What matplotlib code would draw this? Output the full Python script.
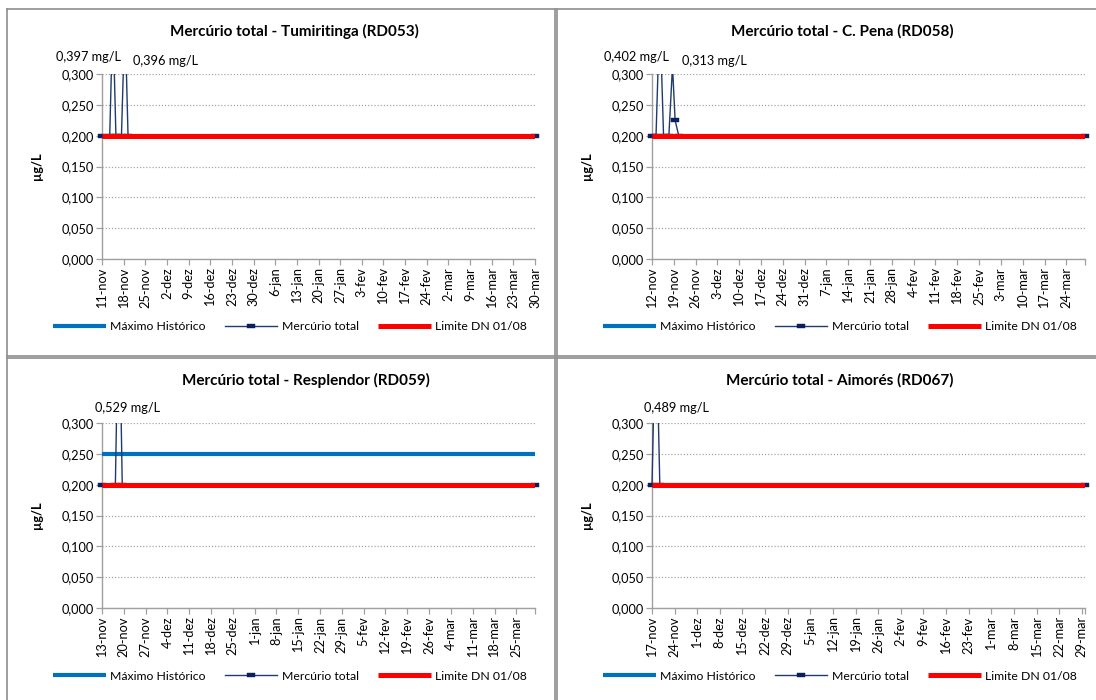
import matplotlib
matplotlib.use('Agg')
import matplotlib.pyplot as plt
import numpy as np
import datetime as dt
import matplotlib.dates as mdates
from matplotlib.lines import Line2D
from matplotlib.transforms import Bbox, TransformedBbox

plt.rcParams['font.family'] = ['Lato', 'DejaVu Sans']

# ---------------- data ----------------
titles = ['Mercúrio total - Tumiritinga (RD053)',
          'Mercúrio total - C. Pena (RD058)',
          'Mercúrio total - Resplendor (RD059)',
          'Mercúrio total - Aimorés (RD067)']
axis_start = ['2015-11-11', '2015-11-12', '2015-11-13', '2015-11-17']
axis_end = ['2016-03-30', '2016-03-30', '2016-03-31', '2016-03-30']
max_hist = [0.200, 0.200, 0.250, 0.200]
limite_dn = 0.200

hg_dates_1 = ['2015-11-11 00:00', '2015-11-13 12:00', '2015-11-14 12:00', '2015-11-15 12:00',
              '2015-11-17 07:00', '2015-11-18 10:00', '2015-11-19 10:00', '2016-03-30 00:00']
hg_vals_1 = [0.200, 0.200, 0.397, 0.200, 0.200, 0.396, 0.200, 0.200]

hg_dates_2 = ['2015-11-12 00:00', '2015-11-13 07:00', '2015-11-14 12:00', '2015-11-15 17:00',
              '2015-11-17 10:00', '2015-11-18 14:00', '2015-11-19 10:00', '2015-11-20 14:00',
              '2016-03-30 00:00']
hg_vals_2 = [0.200, 0.200, 0.402, 0.200, 0.200, 0.313, 0.225, 0.200, 0.200]

hg_dates_3 = ['2015-11-13 00:00', '2015-11-17 07:00', '2015-11-18 10:00', '2015-11-19 12:00',
              '2016-03-31 00:00']
hg_vals_3 = [0.200, 0.200, 0.529, 0.200, 0.200]

hg_dates_4 = ['2015-11-17 00:00', '2015-11-18 05:00', '2015-11-19 10:00', '2016-03-30 00:00']
hg_vals_4 = [0.200, 0.489, 0.200, 0.200]

peak_labels = [[0.397, 0.396], [0.402, 0.313], [0.529], [0.489]]

hg_dates = [hg_dates_1, hg_dates_2, hg_dates_3, hg_dates_4]
hg_vals = [hg_vals_1, hg_vals_2, hg_vals_3, hg_vals_4]

y_ticks = [0.000, 0.050, 0.100, 0.150, 0.200, 0.250, 0.300]
meses = ['jan', 'fev', 'mar', 'abr', 'mai', 'jun', 'jul', 'ago', 'set', 'out', 'nov', 'dez']

# ---------------- layout (pixels) ----------------
W, H = 1096, 700
fig = plt.figure(figsize=(W / 100, H / 100), dpi=100)

def fx(x):
    return x / W

def fy(y):
    return 1 - y / H

offsets = [(0, 0), (550, 0), (0, 349), (550, 349)]
title_x = [294, 842, 306, 840]
label_pos = [[(88, 57), (166, 61)], [(636, 57), (714, 61)], [(128, 408)], [(676, 408)]]

C_BLUE = '#0070C0'
C_RED = '#FF0000'
C_NAVY = '#1F3A6E'
C_MARK = '#0B1F5A'
C_GRID = '#A6A6A6'
C_AXIS = '#A0A0A0'
C_BORDER = '#8E8E8E'

marker_verts = [(-1, -0.5), (1, -0.5), (1, 0.5), (-1, 0.5), (-1, -0.5)]
FS = 9.2
FS_LEG = 8.8

def fmt(v):
    return ('%.3f' % v).replace('.', ',')

for i in range(4):
    ox, oy = offsets[i]
    # panel border
    bx0, by0 = 7 + ox, 9 + oy
    bx1, by1 = 555 + ox, 356 + oy
    for (xa, ya, xb, yb) in [(bx0, by0, bx1, by0), (bx0, by0, bx0, by1),
                             (bx1, by0, bx1, by1), (bx0, by1, bx1, by1)]:
        fig.add_artist(Line2D([fx(xa), fx(xb)], [fy(ya), fy(yb)], color=C_BORDER, lw=1.2,
                              transform=fig.transFigure))

    left, right = 102 + ox, 535 + ox
    top, bottom = 74 + oy, 259 + oy
    ax = fig.add_axes([fx(left), fy(bottom), fx(right) - fx(left), (bottom - top) / H])

    d0 = dt.datetime.strptime(axis_start[i], '%Y-%m-%d')
    d1 = dt.datetime.strptime(axis_end[i], '%Y-%m-%d')
    x0, x1 = mdates.date2num(d0), mdates.date2num(d1)

    xs = mdates.date2num([dt.datetime.strptime(s, '%Y-%m-%d %H:%M') for s in hg_dates[i]])

    ax.plot([x0, x1], [max_hist[i]] * 2, color=C_BLUE, lw=3.0, solid_capstyle='butt', zorder=3)
    hl, = ax.plot(xs, hg_vals[i], color=C_NAVY, lw=1.0, marker=marker_verts, markersize=5.5,
                  markerfacecolor=C_MARK, markeredgecolor=C_MARK, markeredgewidth=0.3, zorder=4)
    hl.set_clip_box(TransformedBbox(Bbox([[-0.03, 0.0], [1.03, 1.0]]), ax.transAxes))
    ax.plot([x0, x1], [limite_dn] * 2, color=C_RED, lw=3.6, solid_capstyle='butt', zorder=5)

    ax.set_xlim(x0, x1)
    ax.set_ylim(0, 0.300)

    ticks = []
    labels = []
    d = d0
    while d <= d1:
        ticks.append(mdates.date2num(d))
        labels.append('%d-%s' % (d.day, meses[d.month - 1]))
        d += dt.timedelta(days=7)
    if ticks[-1] < x1 - 0.5:
        ax.set_xticks(ticks + [x1])
        ax.set_xticklabels(labels + [''])
    else:
        ax.set_xticks(ticks)
        ax.set_xticklabels(labels)
    ax.set_yticks(y_ticks)
    ax.set_yticklabels([fmt(v) for v in y_ticks])

    for lab in ax.get_xticklabels():
        lab.set_rotation(90)
    ax.tick_params(axis='x', direction='out', length=4, width=0.9, color=C_AXIS,
                   labelsize=FS, pad=2, labelcolor='black')
    ax.tick_params(axis='y', direction='out', length=4, width=0.9, color=C_AXIS,
                   labelsize=FS, pad=2, labelcolor='black')

    for s in ['top', 'right']:
        ax.spines[s].set_visible(False)
    for s in ['left', 'bottom']:
        ax.spines[s].set_color(C_AXIS)
        ax.spines[s].set_linewidth(1.0)

    ax.yaxis.grid(True, color=C_GRID, linestyle=(0, (1, 1.5)), linewidth=0.9)
    ax.set_axisbelow(True)
    ax.patch.set_alpha(0)

    # y label
    fig.text(fx(37 + ox), fy((top + bottom) / 2), 'µg/L', rotation=90, ha='center',
             va='center', fontsize=FS, fontweight='bold')
    # title
    fig.text(fx(title_x[i]), fy(31 + oy), titles[i], ha='center', va='center',
             fontsize=11, fontweight='bold')
    # peak labels
    for v, (px, py) in zip(peak_labels[i], label_pos[i]):
        fig.text(fx(px), fy(py), fmt(v) + ' mg/L', ha='center', va='center', fontsize=FS)

    handles = [Line2D([], [], color=C_BLUE, lw=3.0, solid_capstyle='butt'),
               Line2D([], [], color=C_NAVY, lw=1.0, marker=marker_verts, markersize=5.5,
                      markerfacecolor=C_MARK, markeredgecolor=C_MARK, markeredgewidth=0.3),
               Line2D([], [], color=C_RED, lw=3.6, solid_capstyle='butt')]
    ax.legend(handles, ['Máximo Histórico', 'Mercúrio total', 'Limite DN 01/08'],
              loc='center', bbox_to_anchor=(fx(290 + ox), fy(327 + oy)),
              bbox_transform=fig.transFigure, ncol=3, frameon=False, fontsize=FS_LEG,
              handlelength=4.3, handletextpad=0.35, columnspacing=1.6, borderpad=0)

fig.savefig('out.png', dpi=100)
